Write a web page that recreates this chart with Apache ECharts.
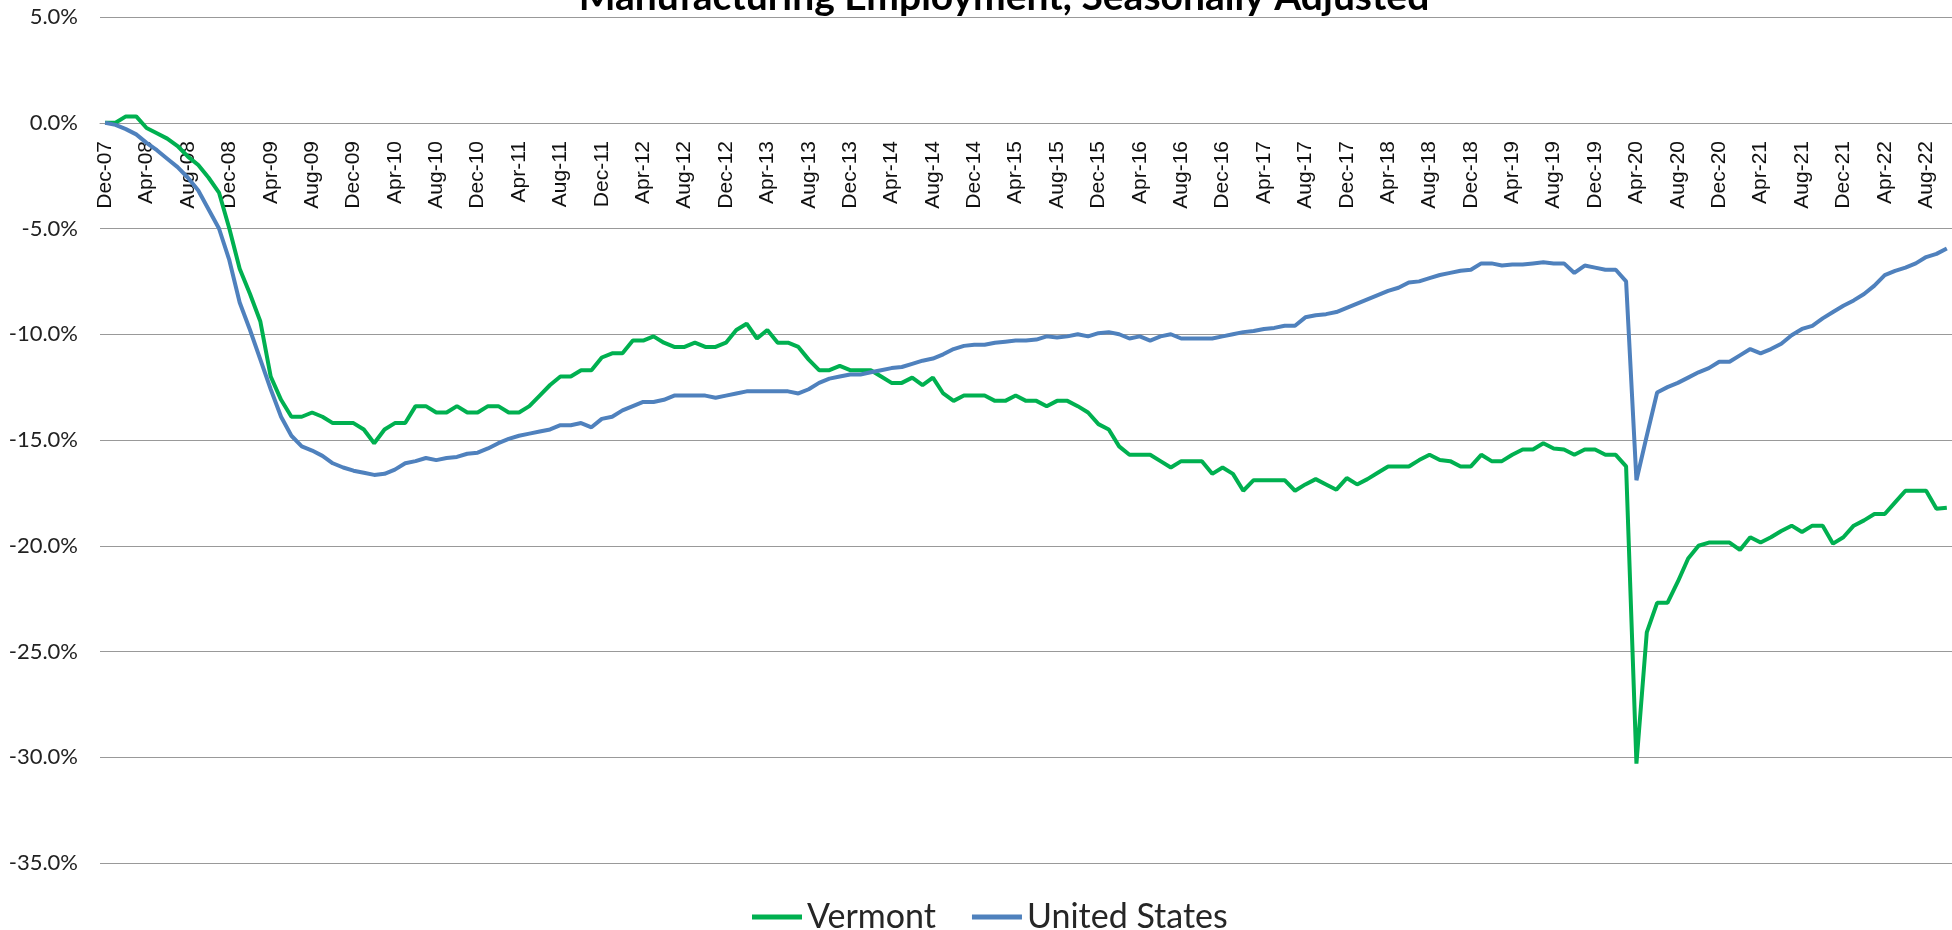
<!DOCTYPE html>
<html>
<head>
    <title>Manufacturing Employment, Seasonally Adjusted</title>
    <meta charset="UTF-8">
    <script src="https://cdn.jsdelivr.net/npm/echarts@6/dist/echarts.min.js"></script>
    <style type="text/css">
      body{
        background: #fff;
        margin: 0;
        padding: 0;
      }
    </style>
</head>
<body>
<div id="chart" style="width:1952px;height:930px;"></div>
<script type="text/javascript">

    var monthNames = ['Jan','Feb','Mar','Apr','May','Jun','Jul','Aug','Sep','Oct','Nov','Dec'];
    // Dec-07 .. Oct-22
    var months = [];
    for (var k = 11; k <= 11 + 178; k++) {
        var yy = 7 + Math.floor(k / 12);
        months.push(monthNames[k % 12] + '-' + (yy < 10 ? '0' + yy : yy));
    }

    var vermont = [
        0.0, 0.0, 0.3, 0.3, -0.25, -0.5, -0.75, -1.1, -1.6, -2.0, -2.6, -3.3,
        -5.0, -6.9, -8.1, -9.4, -12.0, -13.1, -13.9, -13.9, -13.7, -13.9, -14.2, -14.2,
        -14.2, -14.5, -15.15, -14.5, -14.2, -14.2, -13.4, -13.4, -13.7, -13.7, -13.4, -13.7,
        -13.7, -13.4, -13.4, -13.7, -13.7, -13.4, -12.9, -12.4, -12.0, -12.0, -11.7, -11.7,
        -11.1, -10.9, -10.9, -10.3, -10.3, -10.1, -10.4, -10.6, -10.6, -10.4, -10.6, -10.6,
        -10.4, -9.8, -9.5, -10.2, -9.8, -10.4, -10.4, -10.6, -11.2, -11.7, -11.7, -11.5,
        -11.7, -11.7, -11.7, -12.0, -12.3, -12.3, -12.05, -12.4, -12.05, -12.8, -13.15, -12.9,
        -12.9, -12.9, -13.15, -13.15, -12.9, -13.15, -13.15, -13.4, -13.15, -13.15, -13.4, -13.7,
        -14.25, -14.5, -15.3, -15.7, -15.7, -15.7, -16.0, -16.3, -16.0, -16.0, -16.0, -16.6,
        -16.3, -16.6, -17.4, -16.9, -16.9, -16.9, -16.9, -17.4, -17.1, -16.85, -17.1, -17.35,
        -16.8, -17.1, -16.85, -16.55, -16.25, -16.25, -16.25, -15.95, -15.7, -15.95, -16.0, -16.25,
        -16.25, -15.7, -16.0, -16.0, -15.7, -15.45, -15.45, -15.15, -15.4, -15.45, -15.7, -15.45,
        -15.45, -15.7, -15.7, -16.25, -30.3, -24.1, -22.7, -22.7, -21.7, -20.6, -20.0, -19.85,
        -19.85, -19.85, -20.2, -19.6, -19.85, -19.6, -19.3, -19.05, -19.35, -19.05, -19.05, -19.9,
        -19.6, -19.05, -18.8, -18.5, -18.5, -17.95, -17.4, -17.4, -17.4, -18.25, -18.2
    ];

    var unitedStates = [
        0.0, -0.1, -0.3, -0.55, -0.95, -1.3, -1.7, -2.1, -2.6, -3.2, -4.1, -5.0,
        -6.5, -8.5, -9.8, -11.2, -12.6, -13.9, -14.8, -15.3, -15.5, -15.75, -16.1, -16.3,
        -16.45, -16.55, -16.65, -16.6, -16.4, -16.1, -16.0, -15.85, -15.95, -15.85, -15.8, -15.65,
        -15.6, -15.4, -15.15, -14.95, -14.8, -14.7, -14.6, -14.5, -14.3, -14.3, -14.2, -14.4,
        -14.0, -13.9, -13.6, -13.4, -13.2, -13.2, -13.1, -12.9, -12.9, -12.9, -12.9, -13.0,
        -12.9, -12.8, -12.7, -12.7, -12.7, -12.7, -12.7, -12.8, -12.6, -12.3, -12.1, -12.0,
        -11.9, -11.9, -11.8, -11.7, -11.6, -11.55, -11.4, -11.25, -11.15, -10.95, -10.7, -10.55,
        -10.5, -10.5, -10.4, -10.35, -10.3, -10.3, -10.25, -10.1, -10.15, -10.1, -10.0, -10.1,
        -9.95, -9.9, -10.0, -10.2, -10.1, -10.3, -10.1, -10.0, -10.2, -10.2, -10.2, -10.2,
        -10.1, -10.0, -9.9, -9.85, -9.75, -9.7, -9.6, -9.6, -9.2, -9.1, -9.05, -8.95,
        -8.75, -8.55, -8.35, -8.15, -7.95, -7.8, -7.55, -7.5, -7.35, -7.2, -7.1, -7.0,
        -6.95, -6.65, -6.65, -6.75, -6.7, -6.7, -6.65, -6.6, -6.65, -6.65, -7.1, -6.75,
        -6.85, -6.95, -6.95, -7.5, -16.9, -14.8, -12.75, -12.5, -12.3, -12.05, -11.8, -11.6,
        -11.3, -11.3, -11.0, -10.7, -10.9, -10.7, -10.45, -10.05, -9.75, -9.6, -9.25, -8.95,
        -8.65, -8.4, -8.1, -7.7, -7.2, -7.0, -6.85, -6.65, -6.35, -6.2, -5.95
    ];

    var chart = echarts.init(document.getElementById('chart'));

    var option = {
        backgroundColor: '#fff',
        animation: false,
        graphic: [{
            type: 'text',
            x: 1004,
            y: -3,
            style: {
                text: 'Manufacturing Employment, Seasonally Adjusted',
                fontFamily: 'Lato',
                fontWeight: 'bold',
                fontSize: 39,
                fill: '#000',
                textAlign: 'center',
                textVerticalAlign: 'middle'
            }
        }],
        legend: {
            left: 747,
            top: 895,
            icon: 'rect',
            itemWidth: 50,
            itemHeight: 5,
            itemGap: 36,
            textStyle: {fontFamily: 'Lato', fontSize: 34, color: '#262626'},
            data: ['Vermont', 'United States']
        },
        grid: {left: 100, right: -4, top: 17, bottom: 67, containLabel: false},
        xAxis: {
            type: 'category',
            data: months,
            boundaryGap: true,
            // axis sits on the 0% line
            offset: -740,
            axisLine: {onZero: false, lineStyle: {color: '#999', width: 1}},
            axisTick: {show: false},
            axisLabel: {
                interval: 3,
                rotate: 90,
                margin: 18,
                fontFamily: 'Liberation Sans',
                fontSize: 21,
                color: '#111',
                padding: [8, 0, 0, 0]
            },
            splitLine: {show: false}
        },
        yAxis: {
            type: 'value',
            min: -35,
            max: 5,
            interval: 5,
            axisLine: {show: false},
            axisTick: {show: false},
            axisLabel: {
                margin: 22,
                fontFamily: 'Lato',
                fontSize: 22,
                color: '#222',
                formatter: function (v) { return v.toFixed(1) + '%'; }
            },
            splitLine: {lineStyle: {color: '#999', width: 1}}
        },
        series: [
            {
                name: 'Vermont',
                type: 'line',
                data: vermont,
                symbol: 'none',
                color: '#00B050',
                lineStyle: {width: 4, color: '#00B050'}
            },
            {
                name: 'United States',
                type: 'line',
                data: unitedStates,
                symbol: 'none',
                color: '#4F81BD',
                lineStyle: {width: 4, color: '#4F81BD'}
            }
        ]
    };

    chart.setOption(option);

</script>
</body>
</html>
